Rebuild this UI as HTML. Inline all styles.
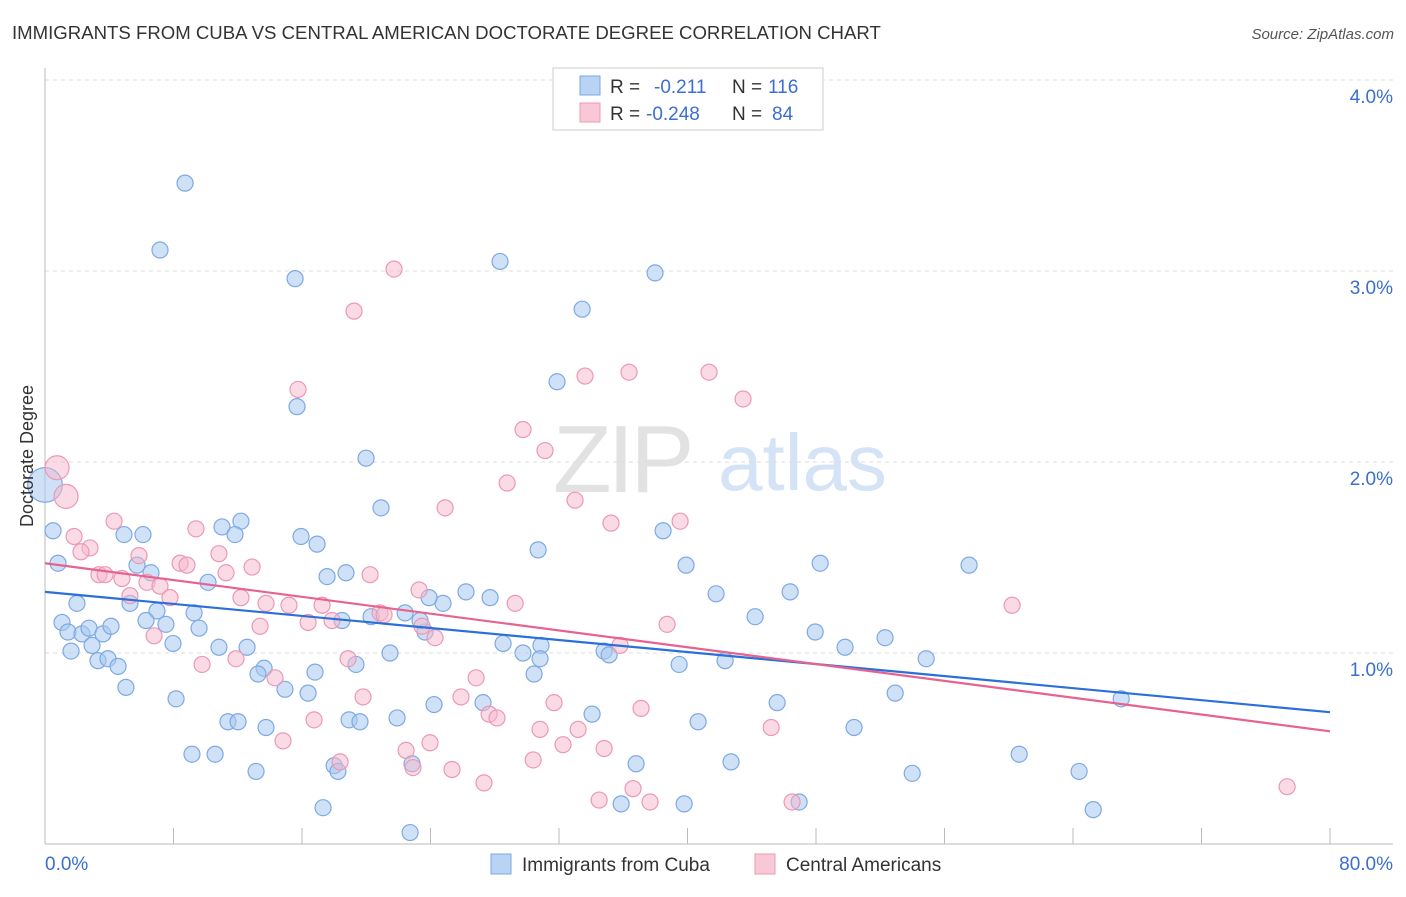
<!DOCTYPE html>
<html><head><meta charset="utf-8"><style>
body{margin:0;background:#fff;font-family:"Liberation Sans",sans-serif;}
svg text{font-family:"Liberation Sans",sans-serif;}
</style></head><body>
<svg id="chart" width="1406" height="892" xmlns="http://www.w3.org/2000/svg">
<text x="12" y="39" font-size="18.6" fill="#333">IMMIGRANTS FROM CUBA VS CENTRAL AMERICAN DOCTORATE DEGREE CORRELATION CHART</text>
<text x="1394" y="39" font-size="15" fill="#555" text-anchor="end" font-style="italic">Source: ZipAtlas.com</text>
<g>
<text x="553" y="492" font-size="96" fill="#e2e2e2" font-family="Liberation Serif" letter-spacing="-4">ZIP</text>
<text x="718" y="490" font-size="80" fill="#d4e3f5">atlas</text>
</g>
<g id="grid"></g>
<g id="axes"></g>
<g id="pts"></g>
<g id="lines"></g>
<text transform="translate(33,456) rotate(-90)" font-size="18" fill="#333" text-anchor="middle">Doctorate Degree</text>
<g>
<rect x="553" y="68" width="270" height="62" fill="#fff" stroke="#ccc"/>
<rect x="580" y="76" width="20" height="19" fill="#b9d3f5" stroke="#7aa7e6"/>
<rect x="580" y="103" width="20" height="19" fill="#f9c8d6" stroke="#ef9ab5"/>
<text x="610" y="93" font-size="19" fill="#333">R =</text>
<text x="654" y="93" font-size="19" fill="#3a6fd0">-0.211</text>
<text x="732" y="93" font-size="19" fill="#333">N =</text>
<text x="768" y="93" font-size="19" fill="#3a6fd0">116</text>
<text x="610" y="120" font-size="19" fill="#333">R =</text>
<text x="646" y="120" font-size="19" fill="#3a6fd0">-0.248</text>
<text x="732" y="120" font-size="19" fill="#333">N =</text>
<text x="772" y="120" font-size="19" fill="#3a6fd0">84</text>
</g>
<g>
<rect x="491" y="854" width="20" height="20" fill="#b9d3f5" stroke="#7aa7e6"/>
<text x="522" y="871" font-size="19" fill="#333">Immigrants from Cuba</text>
<rect x="755" y="854" width="20" height="20" fill="#f9c8d6" stroke="#ef9ab5"/>
<text x="786" y="871" font-size="19" fill="#333">Central Americans</text>
</g>
</svg>
<script>
const xTicks=[0,8,16,24,32,40,48,56,64,72,80];
const yTicks=[1,2,3,4];
const yTickLabels=["1.0%","2.0%","3.0%","4.0%"];
const xEndLabels=["0.0%","80.0%"];
const blueX=[8.72,7.16,15.57,28.33,37.98,33.44,31.88,15.69,19.99,20.92,0.5,0.81,4.92,6.10,12.20,11.02,11.83,15.94,16.94,30.70,38.48,39.91,48.26,57.53,5.73,6.60,10.15,17.56,18.74,26.21,27.71,41.78,46.39,44.21,1.99,5.29,6.97,9.28,6.29,7.53,1.06,1.43,2.30,2.74,3.61,4.11,9.59,7.97,2.93,1.62,3.30,3.92,4.55,10.83,12.58,18.49,20.30,22.42,23.66,23.35,24.78,23.91,28.52,29.76,30.88,30.82,34.81,35.12,39.48,42.34,47.95,49.81,52.30,54.86,30.45,19.36,21.48,13.64,13.26,16.81,5.04,8.16,14.94,16.38,21.92,24.22,27.27,34.06,45.58,52.93,67.00,11.39,12.02,13.76,18.93,19.61,40.66,50.37,9.15,10.59,13.14,18.00,18.24,22.85,36.80,42.71,53.99,60.65,64.38,17.31,22.73,35.87,39.79,46.95,65.26,0];
const blueY=[3.46,3.11,2.96,3.05,2.99,2.80,2.42,2.29,2.02,1.76,1.64,1.47,1.62,1.62,1.69,1.66,1.62,1.61,1.57,1.54,1.64,1.46,1.47,1.46,1.46,1.42,1.37,1.40,1.42,1.32,1.29,1.31,1.32,1.19,1.26,1.26,1.22,1.21,1.17,1.15,1.16,1.11,1.10,1.13,1.10,1.14,1.13,1.05,1.04,1.01,0.96,0.97,0.93,1.03,1.03,1.17,1.19,1.21,1.11,1.17,1.26,1.29,1.05,1.00,1.04,0.97,1.01,0.99,0.94,0.96,1.11,1.03,1.08,0.97,0.89,0.94,1.00,0.92,0.89,0.90,0.82,0.76,0.81,0.79,0.66,0.73,0.74,0.68,0.74,0.79,0.76,0.64,0.64,0.61,0.65,0.64,0.64,0.61,0.47,0.47,0.38,0.41,0.38,0.42,0.42,0.43,0.37,0.47,0.38,0.19,0.06,0.21,0.21,0.22,0.18,1.88];
const blueSize=blueX.map((v,i)=>i===blueX.length-1?3:1);
const pinkX=[0.75,1.31,21.73,19.24,15.75,33.62,36.36,41.34,43.46,29.76,31.13,28.77,33.00,24.91,35.24,39.54,4.30,9.40,1.81,2.80,2.24,5.85,10.83,8.41,8.84,12.89,11.27,3.36,3.74,4.79,6.35,7.16,7.78,5.29,13.76,15.19,17.25,12.20,20.24,23.29,20.86,21.11,17.87,16.38,60.21,29.27,38.73,13.39,6.79,23.47,24.28,35.80,9.78,11.89,18.87,14.32,26.84,19.80,25.90,31.69,37.11,16.75,27.65,28.14,30.82,33.19,45.21,14.82,23.97,22.48,32.25,34.81,18.37,22.91,25.34,30.39,27.33,36.61,34.50,37.67,46.51,77.33];
const pinkY=[1.97,1.82,3.01,2.79,2.38,2.45,2.47,2.47,2.33,2.17,2.06,1.89,1.80,1.76,1.68,1.69,1.69,1.65,1.61,1.55,1.53,1.51,1.52,1.47,1.46,1.45,1.42,1.41,1.41,1.39,1.37,1.35,1.29,1.30,1.26,1.25,1.25,1.29,1.41,1.33,1.21,1.20,1.17,1.16,1.25,1.26,1.15,1.14,1.09,1.14,1.08,1.04,0.94,0.97,0.97,0.87,0.87,0.77,0.77,0.74,0.71,0.65,0.68,0.66,0.60,0.60,0.61,0.54,0.53,0.49,0.52,0.50,0.43,0.40,0.39,0.44,0.32,0.29,0.23,0.22,0.22,0.30];
const pinkSize=pinkX.map((v,i)=>i<2?1.5:1);
const blueTrend=[1.32,0.69];
const pinkTrend=[1.47,0.59];

const NS="http://www.w3.org/2000/svg";
const X=v=>45+v/80*1285;
const Y=v=>844-v*191;
function mk(tag,attrs,parent){const e=document.createElementNS(NS,tag);for(const k in attrs)e.setAttribute(k,attrs[k]);document.getElementById(parent).appendChild(e);return e;}
yTicks.forEach((t,i)=>{
 const g=mk('line',{x1:45,x2:1393,y1:Y(t),y2:Y(t),stroke:'#ddd','stroke-dasharray':'4,4'},'grid');
 
 
 const l=mk('text',{x:1393,y:Y(t)+23,'font-size':19,fill:'#3a6fd0','text-anchor':'end'},'grid');
 
 
 l.textContent=yTickLabels[i];
});
const ax=mk('line',{x1:45,x2:45,y1:68,y2:844,stroke:'#bbb'},'axes');


const bx=mk('line',{x1:45,x2:1393,y1:844,y2:844,stroke:'#bbb'},'axes');


xTicks.forEach(t=>{
 const k=mk('line',{x1:X(t),x2:X(t),y1:828,y2:844,stroke:'#bbb'},'axes');
 
 
});
const xl0=mk('text',{x:45,y:870,'font-size':19,fill:'#3a6fd0'},'axes');


xl0.textContent=xEndLabels[0];
const xl1=mk('text',{x:1393,y:870,'font-size':19,fill:'#3a6fd0','text-anchor':'end'},'axes');


xl1.textContent=xEndLabels[1];
blueX.forEach((v,i)=>{
 const c=mk('circle',{cx:X(v),cy:Y(blueY[i]),r:8*Math.sqrt(blueSize[i])*(blueSize[i]>1?1.25:1),fill:'rgba(168,200,240,0.55)',stroke:'#7ea9e3','stroke-width':1.2},'pts');
 
 
});
pinkX.forEach((v,i)=>{
 const c=mk('circle',{cx:X(v),cy:Y(pinkY[i]),r:8*pinkSize[i],fill:'rgba(246,184,204,0.5)',stroke:'#ec98b4','stroke-width':1.2},'pts');
 
 
});
const bl=mk('line',{x1:X(0),y1:Y(blueTrend[0]),x2:X(80),y2:Y(blueTrend[1]),stroke:'#2b6fd8','stroke-width':2.2},'lines');


const pl=mk('line',{x1:X(0),y1:Y(pinkTrend[0]),x2:X(80),y2:Y(pinkTrend[1]),stroke:'#e8628f','stroke-width':2.2},'lines');


</script>
</body></html>
